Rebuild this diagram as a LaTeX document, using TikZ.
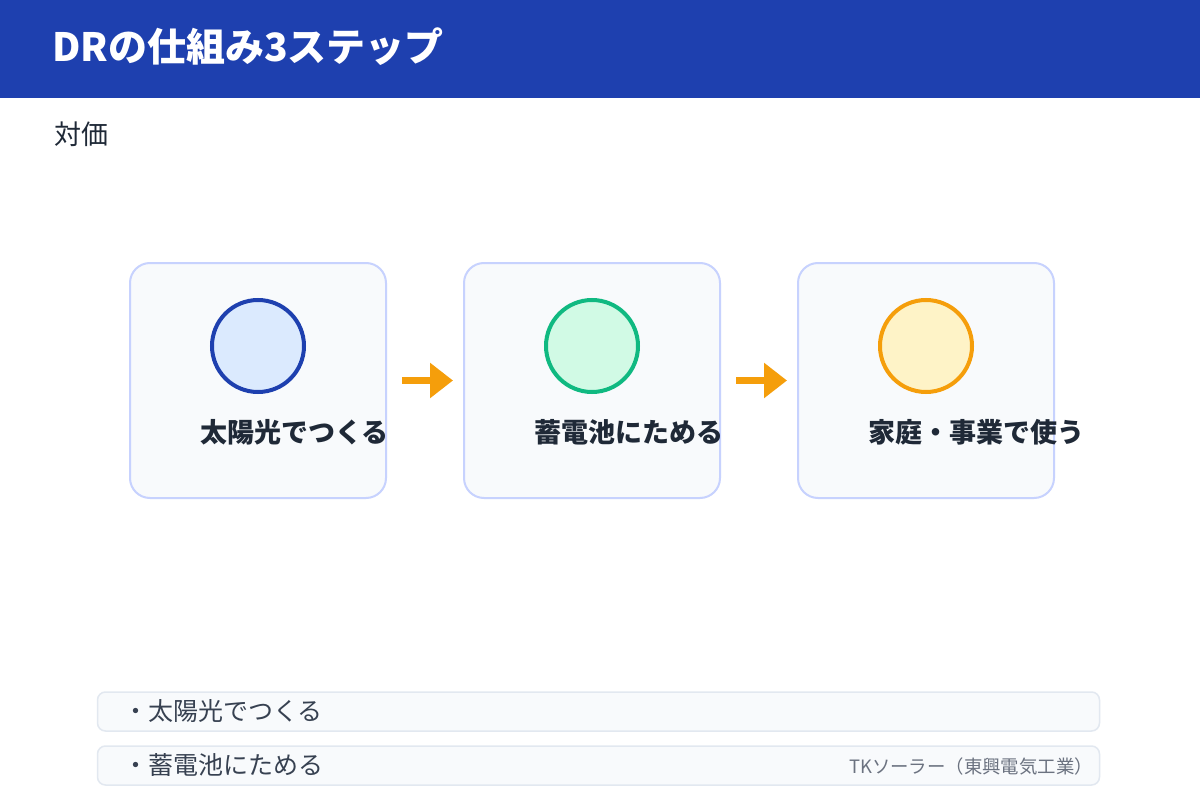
\documentclass[tikz,border=0pt]{standalone}
\usepackage{fontspec}
\setmainfont{Noto Sans CJK JP}
\usetikzlibrary{arrows.meta}
\definecolor{hdrblue}{HTML}{1E40AF}
\definecolor{cardfill}{HTML}{F8FAFC}
\definecolor{cardline}{HTML}{C7D2FE}
\definecolor{barline}{HTML}{E2E8F0}
\definecolor{txtdark}{HTML}{1F2937}
\definecolor{txtbar}{HTML}{374151}
\definecolor{txtgray}{HTML}{6B7280}
\definecolor{cblue}{HTML}{1E40AF}
\definecolor{cbluef}{HTML}{DBEAFE}
\definecolor{cgreen}{HTML}{10B981}
\definecolor{cgreenf}{HTML}{D1FAE5}
\definecolor{corange}{HTML}{F59E0B}
\definecolor{corangef}{HTML}{FEF3C7}
\tikzset{
  card/.style={draw=cardline, fill=cardfill, line width=2pt, rounded corners=20pt,
    minimum width=256pt, minimum height=235pt, inner sep=0pt},
  icon/.style={circle, line width=4pt, minimum size=92pt, inner sep=0pt},
  steplabel/.style={anchor=west, inner sep=0pt, font=\fontsize{27}{31}\selectfont\bfseries, text=txtdark},
  flowarrow/.style={draw=corange, line width=7pt, -{Triangle[length=23pt,width=34pt]}},
  bar/.style={draw=barline, fill=cardfill, line width=1.5pt, rounded corners=8pt,
    minimum width=1002pt, minimum height=39pt, inner sep=0pt},
  bartext/.style={anchor=west, inner sep=0pt, font=\fontsize{25}{29}\selectfont, text=txtbar}
}
\begin{document}
\begin{tikzpicture}[x=1pt, y=-1pt]
\useasboundingbox (0,0) rectangle (1200,800);
\fill[white] (0,0) rectangle (1200,800);
\fill[hdrblue] (0,0) rectangle (1200,98);
\node[anchor=west, inner sep=0pt, text=white, font=\fontsize{39}{45}\selectfont\bfseries] (title) at (52,47) {DRの仕組み3ステップ};
\node[anchor=west, inner sep=0pt, text=txtdark, font=\fontsize{27}{31}\selectfont] (sub) at (54,134) {対価};

\node[card] (c1) at (258,380.5) {};
\node[card] (c2) at (592,380.5) {};
\node[card] (c3) at (926,380.5) {};

\node[icon, draw=cblue, fill=cbluef] (i1) at (258,346) {};
\node[icon, draw=cgreen, fill=cgreenf] (i2) at (592,346) {};
\node[icon, draw=corange, fill=corangef] (i3) at (926,346) {};

\node[steplabel] (l1) at (200,432) {太陽光でつくる};
\node[steplabel] (l2) at (534,432) {蓄電池にためる};
\node[steplabel] (l3) at (868,432) {家庭・事業で使う};

\draw[flowarrow] ([xshift=15pt]c1.east) -- ([xshift=-10pt]c2.west);
\draw[flowarrow] ([xshift=15pt]c2.east) -- ([xshift=-10pt]c3.west);

\node[bar] (b1) at (598.5,711.5) {};
\node[bar] (b2) at (598.5,765.5) {};
\node[bartext] (t1) at (123,711) {・太陽光でつくる};
\node[bartext] (t2) at (123,765) {・蓄電池にためる};
\node[anchor=east, inner sep=0pt, text=txtgray, font=\fontsize{18.4}{22}\selectfont] (src) at (1093,767) {TKソーラー（東興電気工業）};
\end{tikzpicture}
\end{document}
